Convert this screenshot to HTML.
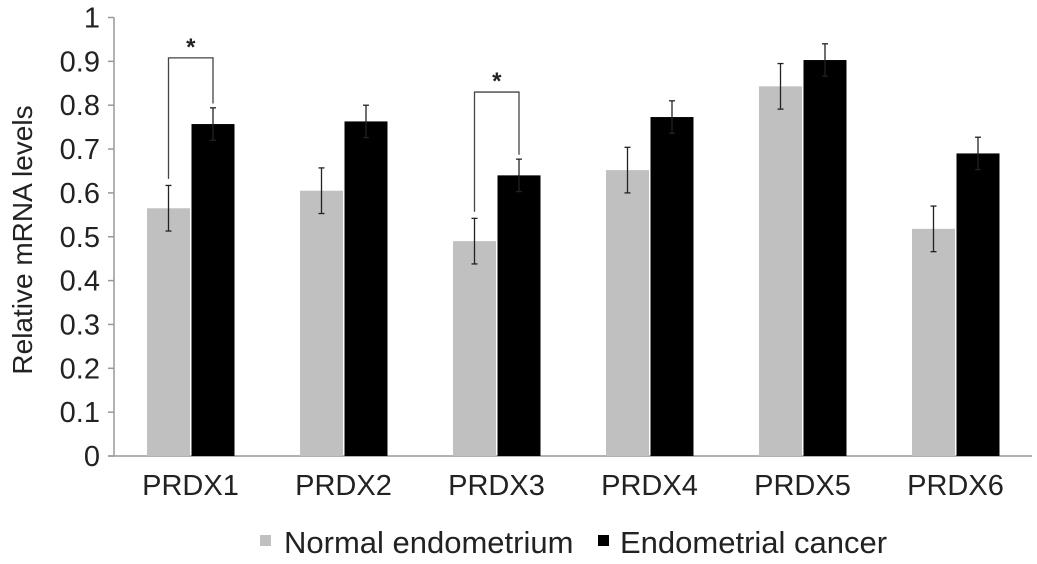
<!DOCTYPE html>
<html><head><meta charset="utf-8"><style>
body{margin:0;background:#fff;width:1037px;height:559px;overflow:hidden}
svg text{font-family:"Liberation Sans",Arial,sans-serif;fill:#222}
</style></head><body>
<svg id="chart" width="1037" height="559" xmlns="http://www.w3.org/2000/svg"></svg>
<script>
const categories=["PRDX1","PRDX2","PRDX3","PRDX4","PRDX5","PRDX6"];
const normalVals=[0.565,0.605,0.49,0.652,0.843,0.518];
const normalErr=[0.052,0.052,0.052,0.052,0.052,0.052];
const cancerVals=[0.757,0.763,0.64,0.773,0.903,0.69];
const cancerErr=[0.037,0.037,0.037,0.037,0.037,0.037];
const yTicks=[0,0.1,0.2,0.3,0.4,0.5,0.6,0.7,0.8,0.9,1];
const yTickLabels=["0","0.1","0.2","0.3","0.4","0.5","0.6","0.7","0.8","0.9","1"];
const sigPairs=[0,2];
const sigLevels=[0.908,0.83];

const svg=document.getElementById('chart');
const NS="http://www.w3.org/2000/svg";
const x0=114,x1=1032,yb=456,yt=17.5;
const bandW=(x1-x0)/categories.length, barW=43;
function y(v){return yb-(v)*(yb-yt);}
function cx(i){return x0+bandW*(i+0.5);}
function mk(tag,attrs,parent){const e=document.createElementNS(NS,tag);for(const k in attrs)e.setAttribute(k,attrs[k]);(parent||svg).appendChild(e);return e;}

let ax=mk('line',{x1:x0,x2:x0,y1:yt,y2:yb,stroke:'#999','stroke-width':1.5});


let xa=mk('line',{x1:x0-6,x2:x1,y1:yb,y2:yb,stroke:'#999','stroke-width':1.5});


yTicks.forEach((t,i)=>{
  let tk=mk('line',{x1:x0-6,x2:x0,y1:y(t),y2:y(t),stroke:'#999','stroke-width':1.5});
  
  
  let tx=mk('text',{x:x0-14,y:y(t)+10,'text-anchor':'end','font-size':29});
  tx.textContent=yTickLabels[i];
  
  
});
let yt2=mk('text',{x:0,y:0,'text-anchor':'middle','font-size':28,transform:'translate(32,240) rotate(-90)'});
yt2.textContent='Relative mRNA levels';



function errBar(xc,v,e){
  const g=mk('g',{});
  mk('line',{x1:xc,x2:xc,y1:y(v-e),y2:y(v+e),stroke:'#222','stroke-width':1.3},g);
  mk('line',{x1:xc-3,x2:xc+3,y1:y(v+e),y2:y(v+e),stroke:'#222','stroke-width':1.3},g);
  mk('line',{x1:xc-3,x2:xc+3,y1:y(v-e),y2:y(v-e),stroke:'#222','stroke-width':1.3},g);
  return g;
}
categories.forEach((c,i)=>{
  const c0=cx(i);
  let b1=mk('rect',{x:c0-barW-0.5,y:y(normalVals[i]),width:barW,height:yb-y(normalVals[i]),fill:'#c0c0c0'});
  
  
  let b2=mk('rect',{x:c0+1,y:y(cancerVals[i]),width:barW,height:yb-y(cancerVals[i]),fill:'#000'});
  
  
  let e1=errBar(c0-barW/2-0.5,normalVals[i],normalErr[i]);
  
  
  let e2=errBar(c0+1+barW/2,cancerVals[i],cancerErr[i]);
  
  
  let lb=mk('text',{x:c0,y:yb+39,'text-anchor':'middle','font-size':29});
  lb.textContent=c;
  
  
});
sigPairs.forEach((i,k)=>{
  const c0=cx(i), xl=c0-barW/2-0.5, xr=c0+1+barW/2, ly=y(sigLevels[k]);
  const g=mk('g',{});
  
  
  mk('polyline',{points:`${xl},${y(normalVals[i]+normalErr[i]+0.015)} ${xl},${ly} ${xr},${ly} ${xr},${y(cancerVals[i]+cancerErr[i]+0.01)}`,fill:'none',stroke:'#444','stroke-width':1.3},g);
  const s=mk('text',{x:(xl+xr)/2,y:ly-3,'text-anchor':'middle','font-size':24,'font-weight':'bold'},g);
  s.textContent='*';
});
let lg=mk('g',{});


mk('rect',{x:260,y:535,width:11,height:11,fill:'#c0c0c0'},lg);
let l1=mk('text',{x:284,y:553,'font-size':31},lg);l1.textContent='Normal endometrium';
mk('rect',{x:598,y:535,width:11,height:11,fill:'#000'},lg);
let l2=mk('text',{x:620,y:553,'font-size':31},lg);l2.textContent='Endometrial cancer';
</script>
</body></html>
